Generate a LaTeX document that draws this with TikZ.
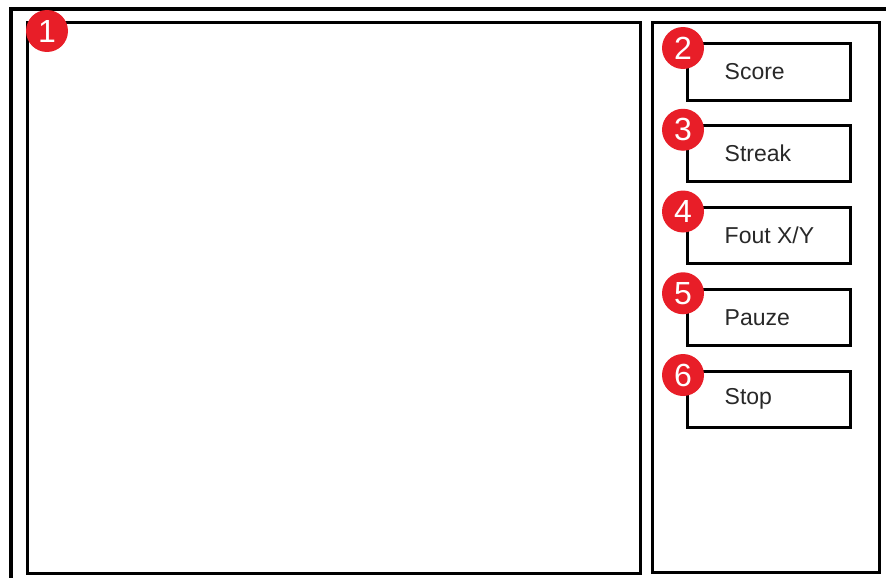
\documentclass[tikz,border=0pt]{standalone}
\usepackage{fontspec}
\setmainfont{Liberation Sans}
\usetikzlibrary{positioning}
\definecolor{badgered}{RGB}{232,30,40}
\definecolor{lbltext}{RGB}{40,40,40}

\begin{document}
\begin{tikzpicture}[x=1pt, y=-1pt,
      panel/.style={draw, line width=3pt, inner sep=0pt},
      btn/.style={draw, line width=3pt, inner sep=0pt,
                  minimum width=163pt, minimum height=56pt},
      lbl/.style={inner sep=0pt, text=lbltext,
                  font=\fontsize{23}{26}\selectfont},
      badge/.style={circle, fill=badgered, inner sep=0pt,
                    minimum size=42pt, text=white,
                    font=\fontsize{32}{34}\selectfont}
  ]
    \useasboundingbox (0,0) rectangle (886,578);
    % outer frame, cut off at the right and bottom
    \draw[line width=4pt] (11,578) -- (11,9) -- (886,9);

    \node[panel, minimum width=613pt, minimum height=550pt] (game) at (333.5,298) {};
    \node[panel, minimum width=227pt, minimum height=549pt] (side) at (765.5,297.5) {};

    \node[btn] (score) at (768.5,72) {};
    \node[btn, below=22.75pt of score]  (streak) {};
    \node[btn, below=22.75pt of streak] (fout) {};
    \node[btn, below=22.75pt of fout]   (pauze) {};
    \node[btn, below=22.75pt of pauze]  (stop) {};

    \node[lbl, right=39pt of score.west]  (score-lbl)  {Score};
    \node[lbl, right=39pt of streak.west] (streak-lbl) {Streak};
    \node[lbl, right=39pt of fout.west]   (fout-lbl)   {Fout X/Y};
    \node[lbl, right=39pt of pauze.west]  (pauze-lbl)  {Pauze};
    \node[lbl, right=39pt of stop.west]   (stop-lbl)   {Stop};

    \node[badge] (b1) at ([xshift=21.5pt, yshift=-9.5pt]game.north west) {1};
    \node[badge] (b2) at ([xshift=-2.5pt, yshift=-5.5pt]score.north west) {2};
    \node[badge] (b3) at ([xshift=-2.5pt, yshift=-5.5pt]streak.north west) {3};
    \node[badge] (b4) at ([xshift=-2.5pt, yshift=-5.5pt]fout.north west) {4};
    \node[badge] (b5) at ([xshift=-2.5pt, yshift=-5.5pt]pauze.north west) {5};
    \node[badge] (b6) at ([xshift=-2.5pt, yshift=-5.5pt]stop.north west) {6};
  \end{tikzpicture}
\end{document}
